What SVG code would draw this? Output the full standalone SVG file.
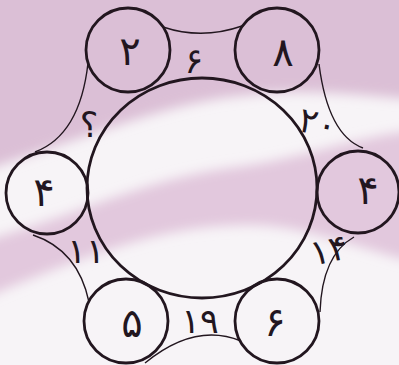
<svg xmlns="http://www.w3.org/2000/svg" width="399" height="365" viewBox="0 0 399 365">
<style>
.node{fill:none;stroke:#22161f;stroke-width:2.8}
.edge{fill:none;stroke:#22161f;stroke-width:1.4}
.t{font-family:"DejaVu Sans",sans-serif;fill:#22161f;text-anchor:middle;dominant-baseline:central}
.n{font-size:40px}
.e{font-size:35px}
</style>
<defs>
<filter id="blur" x="-20%" y="-20%" width="140%" height="140%"><feGaussianBlur stdDeviation="6"/></filter>
</defs>
<g id="background">
<rect width="399" height="365" fill="#f7f4f7"/>
<g filter="url(#blur)">
<path d="M-20,-20 H420 V100 C360,95 300,88 250,95 C180,100 120,125 -20,172 Z" fill="#dbbfd6"/>
<path d="M-20,242 C80,215 140,180 230,168 C300,160 360,135 420,130 V264 C350,245 300,225 250,225 C180,225 120,240 -20,300 Z" fill="#e2c8dd"/>
</g>
</g>
<g id="connectors">
<path class="edge" d="M163,27 Q202,40 242,26"/>
<path class="edge" d="M319,64 Q328,135 363,148"/>
<path class="edge" d="M354,237 Q322,255 320,312"/>
<path class="edge" d="M145,363 Q195,322 241,341"/>
<path class="edge" d="M33,235 Q78,250 89,302"/>
<path class="edge" d="M88,63 Q80,135 35,152"/>
<text class="t e" x="194" y="61">۶</text>
<text class="t e" x="318" y="123" transform="rotate(12 318 123)">۲۰</text>
<text class="t e" x="329" y="250" transform="rotate(-12 329 250)">۱۴</text>
<text class="t e" x="200" y="321">۱۹</text>
<text class="t e" x="86" y="251">۱۱</text>
<text class="t e" x="89" y="125">؟</text>
</g>
<g id="big"><ellipse class="node" cx="202" cy="188" rx="115" ry="110"/></g>
<g id="n2"><circle class="node" cx="128" cy="50" r="42"/><text class="t n" x="130" y="51">۲</text></g>
<g id="n8"><circle class="node" cx="277" cy="50" r="42"/><text class="t n" x="283" y="52">۸</text></g>
<g id="n4l"><circle class="node" cx="47" cy="193" r="41"/><text class="t n" x="44" y="192">۴</text></g>
<g id="n4r"><circle class="node" cx="358" cy="192" r="41"/><text class="t n" x="368" y="190">۴</text></g>
<g id="n5"><circle class="node" cx="126" cy="321" r="42"/><text class="t n" x="132" y="323">۵</text></g>
<g id="n6"><circle class="node" cx="277" cy="321" r="42"/><text class="t n" x="275" y="322">۶</text></g>
</svg>
